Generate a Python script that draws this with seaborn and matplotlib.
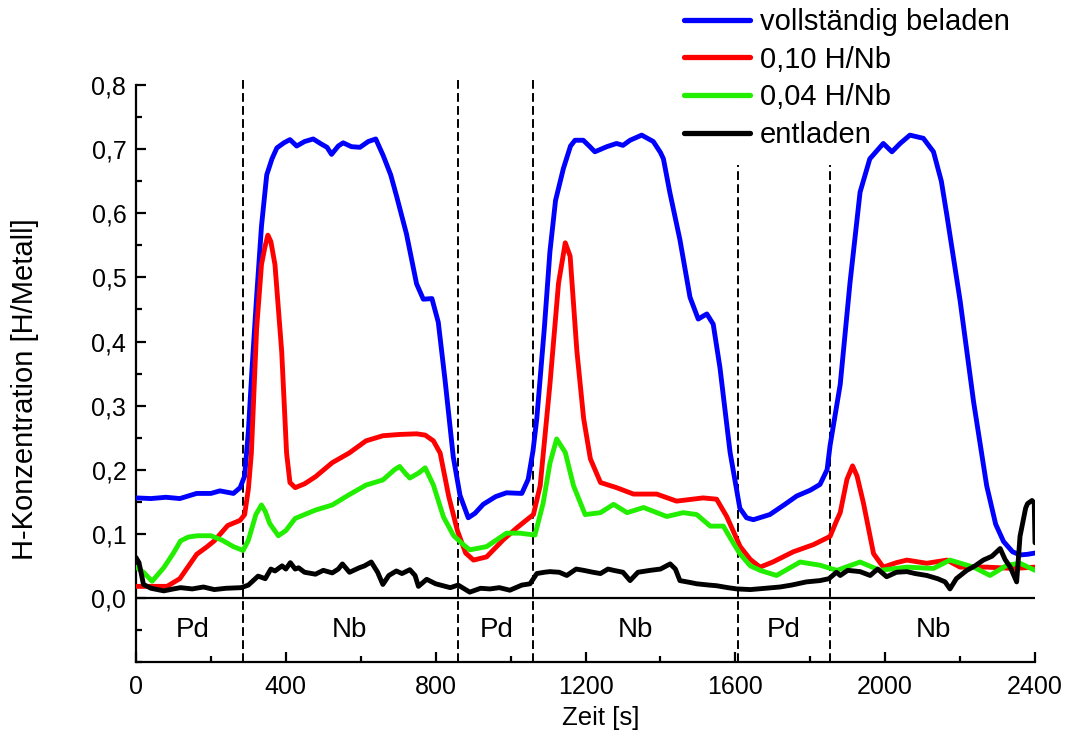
import matplotlib
matplotlib.use("Agg")
import matplotlib.pyplot as plt
import seaborn as sns
import pandas as pd
from matplotlib.lines import Line2D
from matplotlib.ticker import MultipleLocator, FuncFormatter

# ---- measured hydrogen concentration vs. time ----
t_full = [0, 40, 80, 117, 162, 200, 224, 260, 278, 290, 300, 310, 322, 335, 349, 363, 376, 395,
          411, 420, 429, 450, 473, 495, 510, 522, 540, 553, 575, 598, 620, 640, 660, 680, 696,
          722, 749, 767, 790, 807, 825, 847, 865, 887, 905, 927, 960, 989, 1030, 1047, 1060,
          1070, 1090, 1105, 1120, 1141, 1160, 1172, 1194, 1210, 1225, 1257, 1283, 1300, 1319,
          1350, 1381, 1400, 1408, 1425, 1452, 1479, 1501, 1515, 1524, 1541, 1559, 1586, 1612,
          1630, 1648, 1692, 1730, 1764, 1800, 1826, 1845, 1853, 1880, 1906, 1933, 1959, 1995,
          2018, 2040, 2066, 2102, 2129, 2150, 2165, 2200, 2236, 2271, 2295, 2316, 2340, 2360,
          2380, 2400]
c_full = [0.156, 0.155, 0.157, 0.155, 0.163, 0.163, 0.167, 0.163, 0.172, 0.19, 0.26, 0.36,
          0.47, 0.58, 0.66, 0.685, 0.702, 0.71, 0.715, 0.71, 0.705, 0.712, 0.716, 0.708, 0.703,
          0.692, 0.705, 0.71, 0.704, 0.703, 0.712, 0.716, 0.69, 0.66, 0.626, 0.568, 0.49,
          0.466, 0.467, 0.43, 0.34, 0.22, 0.16, 0.125, 0.132, 0.146, 0.158, 0.164, 0.163,
          0.185, 0.23, 0.28, 0.42, 0.54, 0.62, 0.67, 0.705, 0.714, 0.714, 0.705, 0.696, 0.704,
          0.709, 0.706, 0.714, 0.722, 0.712, 0.695, 0.685, 0.633, 0.559, 0.469, 0.435, 0.44,
          0.443, 0.427, 0.359, 0.227, 0.14, 0.125, 0.122, 0.13, 0.145, 0.159, 0.168, 0.177,
          0.2, 0.238, 0.333, 0.491, 0.633, 0.685, 0.709, 0.696, 0.709, 0.722, 0.717, 0.696,
          0.65, 0.596, 0.464, 0.306, 0.175, 0.115, 0.088, 0.072, 0.067, 0.068, 0.07]

t_010 = [0, 40, 83, 117, 162, 190, 209, 245, 278, 290, 300, 308, 322, 335, 344, 352, 360, 371,
         389, 402, 411, 425, 450, 479, 524, 569, 614, 659, 704, 749, 772, 794, 812, 835, 858,
         880, 901, 936, 981, 1016, 1050, 1061, 1079, 1105, 1128, 1146, 1159, 1177, 1195, 1213,
         1240, 1283, 1328, 1390, 1443, 1514, 1550, 1577, 1613, 1640, 1666, 1700, 1755, 1808,
         1853, 1870, 1880, 1898, 1913, 1925, 1942, 1969, 1995, 2030, 2058, 2111, 2165, 2200,
         2271, 2342, 2400]
c_010 = [0.018, 0.018, 0.018, 0.03, 0.068, 0.08, 0.089, 0.113, 0.121, 0.13, 0.17, 0.226, 0.42,
         0.52, 0.547, 0.566, 0.556, 0.52, 0.384, 0.226, 0.18, 0.172, 0.178, 0.189, 0.211,
         0.226, 0.245, 0.253, 0.255, 0.256, 0.254, 0.245, 0.226, 0.158, 0.105, 0.07, 0.059,
         0.064, 0.091, 0.109, 0.125, 0.13, 0.175, 0.333, 0.491, 0.554, 0.533, 0.385, 0.28,
         0.217, 0.18, 0.172, 0.162, 0.162, 0.151, 0.156, 0.154, 0.127, 0.08, 0.06, 0.048,
         0.056, 0.072, 0.083, 0.096, 0.12, 0.133, 0.185, 0.206, 0.19, 0.148, 0.069, 0.048,
         0.055, 0.059, 0.054, 0.059, 0.048, 0.048, 0.046, 0.048]

t_004 = [0, 20, 43, 74, 100, 119, 140, 164, 200, 230, 260, 286, 300, 320, 335, 345, 357, 380,
         400, 425, 479, 524, 569, 614, 659, 690, 704, 718, 731, 755, 772, 794, 821, 848, 876,
         891, 936, 989, 1025, 1065, 1087, 1105, 1123, 1146, 1168, 1199, 1240, 1275, 1311,
         1355, 1417, 1461, 1497, 1533, 1568, 1590, 1612, 1640, 1666, 1710, 1740, 1773, 1826,
         1871, 1933, 1986, 2058, 2129, 2173, 2236, 2280, 2325, 2360, 2400]
c_004 = [0.048, 0.04, 0.026, 0.047, 0.07, 0.089, 0.095, 0.097, 0.097, 0.09, 0.08, 0.074, 0.09,
         0.13, 0.145, 0.135, 0.116, 0.097, 0.105, 0.124, 0.137, 0.145, 0.161, 0.176, 0.184,
         0.2, 0.205, 0.195, 0.187, 0.195, 0.203, 0.176, 0.126, 0.097, 0.082, 0.075, 0.08,
         0.101, 0.101, 0.098, 0.148, 0.21, 0.248, 0.227, 0.175, 0.13, 0.133, 0.146, 0.133,
         0.141, 0.127, 0.133, 0.13, 0.112, 0.112, 0.09, 0.069, 0.05, 0.043, 0.035, 0.045,
         0.056, 0.051, 0.043, 0.056, 0.043, 0.048, 0.046, 0.059, 0.048, 0.035, 0.051, 0.054,
         0.043]

t_empty = [0, 8, 20, 40, 74, 100, 119, 150, 180, 209, 240, 281, 300, 326, 345, 360, 371, 390,
           400, 412, 425, 434, 450, 479, 500, 524, 540, 551, 570, 596, 610, 628, 645, 659, 675,
           695, 710, 731, 745, 754, 776, 800, 839, 860, 891, 920, 945, 970, 998, 1030, 1052,
           1070, 1090, 1105, 1130, 1150, 1175, 1195, 1220, 1240, 1260, 1275, 1300, 1319, 1340,
           1373, 1400, 1426, 1440, 1452, 1480, 1497, 1530, 1550, 1580, 1604, 1640, 1680, 1719,
           1750, 1790, 1826, 1850, 1870, 1880, 1900, 1933, 1960, 1980, 2004, 2030, 2058, 2080,
           2111, 2140, 2160, 2173, 2190, 2218, 2240, 2262, 2285, 2307, 2320, 2334, 2351, 2360,
           2375, 2380, 2392, 2398, 2400]
c_empty = [0.063, 0.055, 0.021, 0.015, 0.011, 0.014, 0.016, 0.014, 0.017, 0.013, 0.015, 0.016,
           0.02, 0.034, 0.03, 0.045, 0.042, 0.05, 0.045, 0.055, 0.045, 0.047, 0.04, 0.037,
           0.043, 0.039, 0.045, 0.053, 0.04, 0.047, 0.05, 0.056, 0.04, 0.021, 0.035, 0.042,
           0.038, 0.044, 0.035, 0.018, 0.029, 0.022, 0.016, 0.02, 0.009, 0.015, 0.014, 0.016,
           0.012, 0.02, 0.022, 0.038, 0.04, 0.041, 0.04, 0.035, 0.045, 0.043, 0.04, 0.038,
           0.045, 0.043, 0.04, 0.027, 0.04, 0.043, 0.045, 0.053, 0.045, 0.027, 0.024, 0.022,
           0.02, 0.019, 0.016, 0.014, 0.013, 0.015, 0.017, 0.02, 0.025, 0.027, 0.03, 0.04,
           0.035, 0.043, 0.041, 0.035, 0.045, 0.033, 0.04, 0.041, 0.038, 0.035, 0.03, 0.025,
           0.014, 0.03, 0.043, 0.05, 0.059, 0.065, 0.077, 0.06, 0.048, 0.025, 0.096, 0.14,
           0.147, 0.152, 0.148, 0.086]

series_labels = ["vollständig beladen", "0,10 H/Nb", "0,04 H/Nb", "entladen"]
series_colors = ["#0000ff", "#ff0000", "#22ee00", "#000000"]

# phase boundaries (Pd / Nb layers) and their labels
boundaries = [286, 860, 1060, 1607, 1853]
boundary_tops = [0.808, 0.808, 0.808, 0.675, 0.675]
phase_names = ["Pd", "Nb", "Pd", "Nb", "Pd", "Nb"]
phase_centers = [150, 571, 962, 1332, 1730, 2128]

sns.set_style("white")
plt.rcParams["font.family"] = ["Liberation Sans", "DejaVu Sans"]
plt.rcParams["text.color"] = "black"
plt.rcParams["axes.labelcolor"] = "black"
plt.rcParams["xtick.color"] = "black"
plt.rcParams["ytick.color"] = "black"

fig = plt.figure(figsize=(10.7, 7.44), dpi=100)
W, H = 1070, 744
ax = fig.add_axes([136 / W, 1 - 662 / H, 899 / W, 582 / H])

series = [(t_full, c_full), (t_010, c_010), (t_004, c_004), (t_empty, c_empty)]
handles = []
for (tt, cc), lab, col in zip(series, series_labels, series_colors):
    df = pd.DataFrame({"Zeit": tt, "c": cc})
    sns.lineplot(data=df, x="Zeit", y="c", ax=ax, color=col, lw=3.5,
                 estimator=None, sort=False, legend=False, zorder=3)
    handles.append(Line2D([], [], color=col, lw=3.8, label=lab))

ax.vlines(boundaries, -0.1, boundary_tops, colors="black", lw=1.4,
          linestyles=(0, (4.5, 2.2)), zorder=2, clip_on=False)
ax.axhline(0, color="black", lw=1.6, zorder=2)

for name, xc in zip(phase_names, phase_centers):
    ax.text(xc, -0.05, name, ha="center", va="center", fontsize=20, color="black")

ax.set_xlim(0, 2400)
ax.set_ylim(-0.1, 0.808)
for s in ["top", "right"]:
    ax.spines[s].set_visible(False)
for s in ["left", "bottom"]:
    ax.spines[s].set_linewidth(1.6)
    ax.spines[s].set_color("black")
ax.spines["left"].set_bounds(-0.1, 0.8)

ax.set_yticks([0, 0.1, 0.2, 0.3, 0.4, 0.5, 0.6, 0.7, 0.8])
ax.yaxis.set_minor_locator(MultipleLocator(0.05))
ax.set_xticks([0, 400, 800, 1200, 1600, 2000, 2400])
ax.xaxis.set_minor_locator(MultipleLocator(200))
ax.yaxis.set_major_formatter(FuncFormatter(lambda v, p: f"{v:.1f}".replace(".", ",")))
ax.tick_params(which="major", direction="in", length=7.5, width=1.6, labelsize=18,
               colors="black")
ax.tick_params(which="minor", direction="in", length=4, width=1.6, colors="black")
ax.tick_params(axis="y", which="both", left=True, pad=7)
ax.tick_params(axis="x", which="both", bottom=True, pad=9)

ax.set_xlabel("Zeit [s]", fontsize=18.5, color="black")
ax.set_ylabel("H-Konzentration [H/Metall]", fontsize=21, color="black")
ax.xaxis.set_label_coords(0.517, -0.075)
ax.yaxis.set_label_coords(-0.108, 0.469)

fig.legend(handles=handles, loc="upper left", bbox_to_anchor=(684 / W, 1 - 8 / H),
           frameon=False, fontsize=21, handlelength=2.25, handletextpad=0.35,
           labelspacing=0.33, borderpad=0, borderaxespad=0)

fig.savefig("out.png", dpi=100)
